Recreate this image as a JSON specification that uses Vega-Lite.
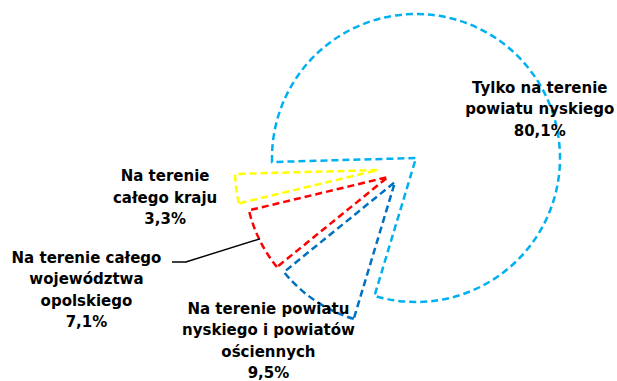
{
  "$schema": "https://vega.github.io/schema/vega-lite/v6.json",
  "width": 412,
  "height": 332,
  "autosize": {"type": "none"},
  "padding": {"left": 205, "top": 0, "right": 0, "bottom": 49},
  "background": "white",
  "config": {"view": {"stroke": null}},
  "data": {
    "values": [
      {"kategoria": "Tylko na terenie powiatu nyskiego", "value": 80.1, "label": "Tylko na terenie\npowiatu nyskiego\n80,1%"},
      {"kategoria": "Na terenie powiatu nyskiego i powiatów ościennych", "value": 9.5, "label": "Na terenie powiatu\nnyskiego i powiatów\nościennych\n9,5%"},
      {"kategoria": "Na terenie całego województwa opolskiego", "value": 7.1, "label": "Na terenie całego\nwojewództwa\nopolskiego\n7,1%"},
      {"kategoria": "Na terenie całego kraju", "value": 3.3, "label": "Na terenie\ncałego kraju\n3,3%"}
    ]
  },
  "transform": [
    {"stack": "value", "groupby": [], "sort": [{"field": "value", "order": "descending"}], "as": ["v0", "v1"]}
  ],
  "layer": [
    {
      "transform": [{"filter": {"field": "kategoria", "equal": "Tylko na terenie powiatu nyskiego"}}],
      "mark": {"type": "arc", "outerRadius": 144, "xOffset": 5, "yOffset": -8, "fill": "white", "fillOpacity": 0, "stroke": "#00B0F0", "strokeWidth": 2.5, "strokeDash": [7, 4]},
      "encoding": {
        "theta": {"field": "v0", "type": "quantitative", "scale": {"domain": [0, 100], "range": [4.6845, 10.9677]}},
        "theta2": {"field": "v1"}
      }
    },
    {
      "transform": [{"filter": {"field": "kategoria", "equal": "Na terenie powiatu nyskiego i powiatów ościennych"}}],
      "mark": {"type": "arc", "outerRadius": 143, "xOffset": -16, "yOffset": 16, "fill": "white", "fillOpacity": 0, "stroke": "#0070C0", "strokeWidth": 2.5, "strokeDash": [7, 4]},
      "encoding": {
        "theta": {"field": "v0", "type": "quantitative"},
        "theta2": {"field": "v1"}
      }
    },
    {
      "transform": [{"filter": {"field": "kategoria", "equal": "Na terenie całego województwa opolskiego"}}],
      "mark": {"type": "arc", "outerRadius": 143, "xOffset": -23, "yOffset": 11, "fill": "white", "fillOpacity": 0, "stroke": "#FF0000", "strokeWidth": 2.5, "strokeDash": [7, 4]},
      "encoding": {
        "theta": {"field": "v0", "type": "quantitative"},
        "theta2": {"field": "v1"}
      }
    },
    {
      "transform": [{"filter": {"field": "kategoria", "equal": "Na terenie całego kraju"}}],
      "mark": {"type": "arc", "outerRadius": 143, "xOffset": -33, "yOffset": 4, "fill": "white", "fillOpacity": 0, "stroke": "#FFFF00", "strokeWidth": 2.5, "strokeDash": [7, 4]},
      "encoding": {
        "theta": {"field": "v0", "type": "quantitative"},
        "theta2": {"field": "v1"}
      }
    },
    {
      "transform": [{"filter": {"field": "kategoria", "equal": "Na terenie całego województwa opolskiego"}}],
      "mark": {"type": "arc", "innerRadius": 134, "outerRadius": 211, "xOffset": -23, "yOffset": 33, "stroke": "#000000", "strokeWidth": 1.4, "fillOpacity": 0},
      "encoding": {"theta": {"datum": 95.64, "type": "quantitative"}, "theta2": {"datum": 95.64}}
    },
    {
      "transform": [{"filter": {"field": "kategoria", "equal": "Na terenie całego województwa opolskiego"}}],
      "mark": {"type": "arc", "innerRadius": 201, "outerRadius": 216, "xOffset": -23, "yOffset": 96, "stroke": "#000000", "strokeWidth": 1.4, "fillOpacity": 0},
      "encoding": {"theta": {"datum": 0.444, "type": "quantitative"}, "theta2": {"datum": 0.444}}
    },
    {
      "mark": {"type": "text", "radius": 147, "dx": 12, "dy": 16, "font": "DejaVu Sans", "fontWeight": "bold", "fontSize": 15, "lineHeight": 21.5, "lineBreak": "\n", "align": "center", "baseline": "alphabetic", "color": "#000000"},
      "encoding": {
        "theta": {"field": "value", "type": "quantitative", "stack": true},
        "order": {"field": "value", "sort": "descending"},
        "text": {"condition": {"test": "datum.kategoria === 'Tylko na terenie powiatu nyskiego'", "field": "label"}, "value": ""}
      }
    },
    {
      "mark": {"type": "text", "radius": 202, "dx": -30, "dy": -20, "font": "DejaVu Sans", "fontWeight": "bold", "fontSize": 15, "lineHeight": 21.5, "lineBreak": "\n", "align": "center", "baseline": "alphabetic", "color": "#000000"},
      "encoding": {
        "theta": {"field": "value", "type": "quantitative", "stack": true},
        "order": {"field": "value", "sort": "descending"},
        "text": {"condition": {"test": "datum.kategoria === 'Na terenie powiatu nyskiego i powiatów ościennych'", "field": "label"}, "value": ""}
      }
    },
    {
      "mark": {"type": "text", "radius": 334, "dx": -25, "dy": -51, "font": "DejaVu Sans", "fontWeight": "bold", "fontSize": 15, "lineHeight": 21.5, "lineBreak": "\n", "align": "center", "baseline": "alphabetic", "color": "#000000"},
      "encoding": {
        "theta": {"field": "value", "type": "quantitative", "stack": true},
        "order": {"field": "value", "sort": "descending"},
        "text": {"condition": {"test": "datum.kategoria === 'Na terenie całego województwa opolskiego'", "field": "label"}, "value": ""}
      }
    },
    {
      "mark": {"type": "text", "radius": 246, "dx": -2, "dy": -17, "font": "DejaVu Sans", "fontWeight": "bold", "fontSize": 15, "lineHeight": 21.5, "lineBreak": "\n", "align": "center", "baseline": "alphabetic", "color": "#000000"},
      "encoding": {
        "theta": {"field": "value", "type": "quantitative", "stack": true},
        "order": {"field": "value", "sort": "descending"},
        "text": {"condition": {"test": "datum.kategoria === 'Na terenie całego kraju'", "field": "label"}, "value": ""}
      }
    }
  ]
}
